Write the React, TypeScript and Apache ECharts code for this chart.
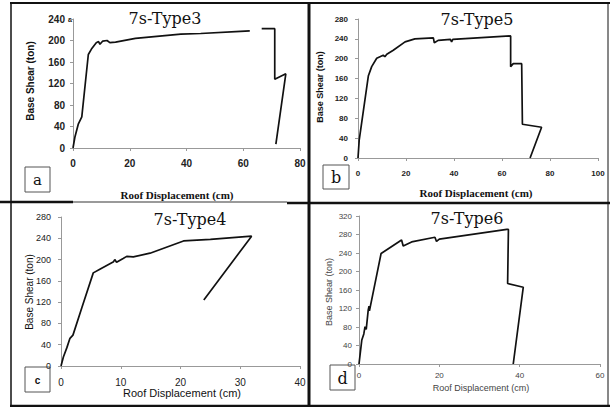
import React, { useEffect, useRef } from "react";
import * as echarts from "echarts";

// Panel a: 7s-Type3 (two pieces, gap near 64 cm)
const typeA1: number[][] = [
  [0, 0], [0.7, 21], [1.9, 45], [3.1, 58], [5.4, 174], [6.5, 184], [8.2, 196], [9, 198],
  [9.5, 193], [10.5, 199], [12, 200], [13, 196], [15, 197], [22, 204], [38, 212],
  [45, 213], [59, 217], [62.3, 218],
];
const typeA2: number[][] = [[66.5, 222], [71.1, 222], [71.1, 128], [75, 138], [71.5, 7]];
// Panel b: 7s-Type5
const typeB: number[][] = [
  [0, 0], [0.5, 36], [4.3, 165], [5.7, 184], [7.8, 201], [10.5, 207], [11.2, 204], [12, 209],
  [14.7, 217], [19.6, 234], [23.7, 240], [31.4, 242], [31.8, 232], [33.4, 237], [38.5, 239],
  [39, 234], [39.5, 239], [63.6, 246], [63.6, 184], [64.7, 190], [68.2, 190], [68.5, 68],
  [76.5, 62], [71.7, 0],
];
// Panel c: 7s-Type4
const typeC: number[][] = [
  [0, 0], [0.4, 17], [1, 35], [1.5, 52], [2, 58], [3.5, 110], [5.4, 175], [6.5, 182],
  [8.8, 196], [9, 200], [9.3, 195], [10.4, 202], [11, 206], [12.1, 205], [14.9, 212],
  [20.5, 235], [25, 238], [31.9, 244], [23.9, 124],
];
// Panel d: 7s-Type6
const typeD: number[][] = [
  [0, 0], [0.7, 52], [1.2, 65], [1.5, 81], [1.8, 75], [2.3, 117], [2.5, 125], [2.6, 115],
  [5.5, 239], [10.6, 268], [11, 255], [13.1, 264], [18.9, 274], [19.3, 265], [20, 270],
  [36.8, 291], [37.2, 291], [37, 174], [40.9, 166], [38.4, 0],
];

const titles = ["7s-Type3", "7s-Type5", "7s-Type4", "7s-Type6"];
const letters = ["a", "b", "c", "d"];
const xName = "Roof Displacement (cm)";
const yName = "Base Shear (ton)";
const xMax = [80, 100, 40, 60];
const xStep = [20, 20, 10, 20];
const yMax = [240, 280, 280, 320];
const yStep = [40, 40, 40, 40];

export default function App() {
  const ref = useRef<HTMLDivElement>(null);
  useEffect(() => {
    if (!ref.current) return;
    const chart = echarts.init(ref.current, null, { renderer: "svg" });
    const SANS = "Liberation Sans, Arial, sans-serif";
    const SLAB = "DejaVu Serif, serif";
    const SERIF = "Liberation Serif, Times New Roman, serif";

    const grids = [
      { left: 73, top: 19, width: 227, height: 129 },
      { left: 358, top: 19, width: 240, height: 139 },
      { left: 61, top: 217, width: 239, height: 149 },
      { left: 359, top: 216, width: 241, height: 148 },
    ];
    const labelStyles = [
      { x: { fontSize: 10, fontWeight: "bold", color: "#222", margin: 10 }, y: { fontSize: 10, fontWeight: "bold", color: "#222", margin: 8 } },
      { x: { fontSize: 8, fontWeight: "bold", color: "#222", margin: 11 }, y: { fontSize: 8, fontWeight: "bold", color: "#222", margin: 10 } },
      { x: { fontSize: 10, fontWeight: "normal", color: "#222", margin: 11 }, y: { fontSize: 9, fontWeight: "normal", color: "#222", margin: 10 } },
      { x: { fontSize: 8, fontWeight: "normal", color: "#444", margin: 7 }, y: { fontSize: 8, fontWeight: "normal", color: "#444", margin: 7 } },
    ];
    const axisColor = "#999";
    const xAxis = grids.map((_, i) => ({
      gridIndex: i, type: "value", min: 0, max: xMax[i], interval: xStep[i],
      axisLine: { show: true, onZero: false, lineStyle: { color: axisColor, width: 1 } },
      axisTick: { show: true, length: 3, lineStyle: { color: axisColor } },
      splitLine: { show: false },
      axisLabel: { fontFamily: SANS, ...labelStyles[i].x },
    }));
    const yAxis = grids.map((_, i) => ({
      gridIndex: i, type: "value", min: 0, max: yMax[i], interval: yStep[i],
      axisLine: { show: true, onZero: false, lineStyle: { color: axisColor, width: 1 } },
      axisTick: { show: true, length: 3, lineStyle: { color: axisColor } },
      splitLine: { show: false },
      axisLabel: { fontFamily: SANS, ...labelStyles[i].y },
    }));
    const mk = (data: number[][], i: number) => ({
      type: "line", xAxisIndex: i, yAxisIndex: i, data, showSymbol: false, symbol: "none",
      lineStyle: { color: "#111", width: 1.7 }, clip: false, silent: true,
    });
    const series = [mk(typeA1, 0), mk(typeA2, 0), mk(typeB, 1), mk(typeC, 2), mk(typeD, 3)];

    const line = (x1: number, y1: number, x2: number, y2: number, w: number, c = "#111") => ({
      type: "line", shape: { x1, y1, x2, y2 }, style: { stroke: c, lineWidth: w }, silent: true,
    });
    const text = (t: string, x: number, y: number, family: string, size: number, bold = false, fill = "#111", rot = 0) => ({
      type: "text", x, y, rotation: rot, silent: true,
      style: {
        text: t, align: "center", verticalAlign: "middle", fill,
        fontFamily: family, fontSize: size, fontWeight: bold ? "bold" : "normal",
      },
    });
    const box = (x: number, y: number, w: number, h: number) => ({
      type: "rect", shape: { x, y, width: w, height: h }, silent: true,
      style: { fill: "#fff", stroke: "#555", lineWidth: 1 },
    });

    const titlePos = [[165, 18], [477, 19], [190, 219], [467, 218]];
    const R = Math.PI / 2;
    const graphic: any[] = [
      // frames
      line(10, 3, 610, 3, 2),
      line(11, 3, 11, 406, 1.5),
      line(309, 3, 309, 406, 3),
      line(0, 202, 73, 202, 2.5),
      line(73, 202, 287, 202, 2, "#9a9a9a"),
      line(287, 203, 610, 203, 2.5),
      line(10, 406, 610, 406, 2.5),
      line(608, 3, 608, 406, 1),
      // titles
      ...titles.map((t, i) => text(t, titlePos[i][0], titlePos[i][1], SLAB, 16, false)),
      // axis names
      text(yName, 30, 81, SANS, 10, true, "#111", R),
      text(xName, 177, 195, SERIF, 11, true),
      text(yName, 320, 87, SANS, 9, true, "#111", R),
      text(xName, 476, 193, SERIF, 11, true),
      text(yName, 29, 292, SANS, 10, false, "#111", R),
      text(xName, 182, 393, SANS, 11),
      text(yName, 329, 292, SANS, 9, false, "#444", R),
      text(xName, 481, 388, SANS, 9, false, "#444"),
      // letter boxes
      box(25, 167, 25, 25), text(letters[0], 37.5, 180, SLAB, 15),
      box(323, 165, 26, 24), text(letters[1], 336, 177, SLAB, 16),
      box(25, 367, 25, 25), text(letters[2], 37.5, 380, SANS, 10, true),
      box(330, 365, 25, 25), text(letters[3], 342.5, 378, SLAB, 16),
      text(letters[0], 70, 19, SANS, 7, true),
    ];

    chart.setOption({
      animation: false,
      backgroundColor: "#fff",
      grid: grids,
      xAxis,
      yAxis,
      series,
      graphic,
    });
    return () => chart.dispose();
  }, []);
  return <div ref={ref} style={{ position: "fixed", left: 0, top: 0, width: 610, height: 407 }} />;
}
